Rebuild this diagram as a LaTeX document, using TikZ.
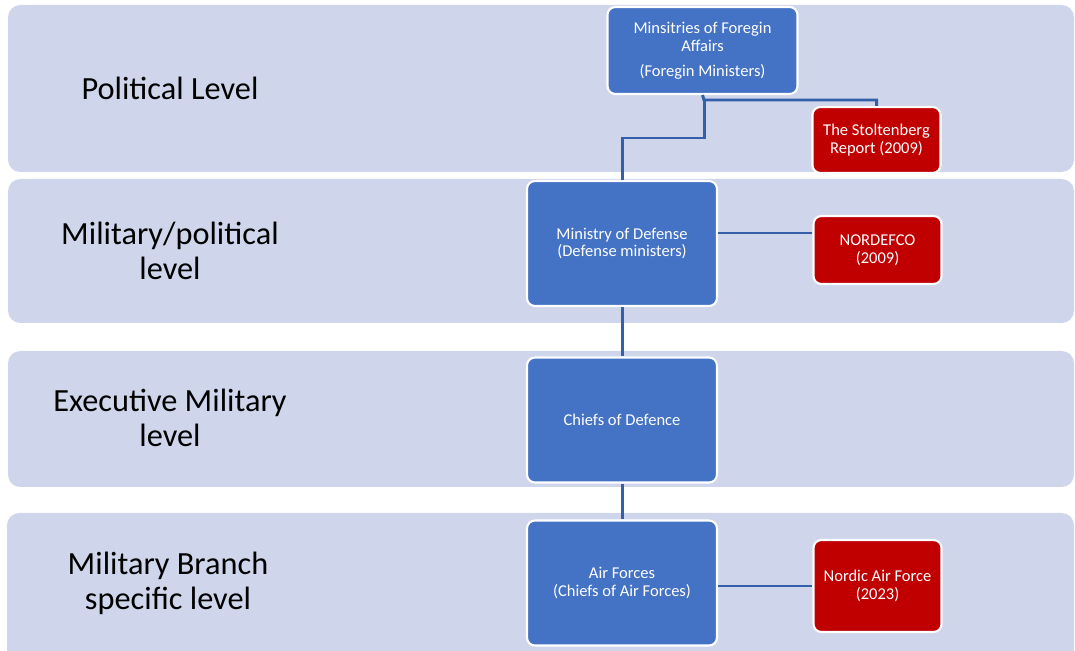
\documentclass[tikz,border=0pt]{standalone}
\usepackage{fontspec}
\setmainfont{Carlito}
\usepackage{tikz}

\definecolor{bandfill}{HTML}{CFD5EA}
\definecolor{boxblue}{HTML}{4472C4}
\definecolor{boxred}{HTML}{C00000}
\definecolor{linkblue}{HTML}{3460AA}

\begin{document}
\begin{tikzpicture}[x=0.02cm, y=-0.02cm,
    band/.style={fill=bandfill, rounded corners=7pt},
    level/.style={align=center, font=\fontsize{18.4}{20}\selectfont},
    unit/.style={draw=white, line width=1.2pt, fill=boxblue, rounded corners=4.5pt,
        text=white, align=center, font=\fontsize{9.4}{10.2}\selectfont,
        minimum width=3.8cm, minimum height=2.5cm, inner sep=2pt},
    coop/.style={unit, fill=boxred, minimum width=2.56cm},
    link/.style={draw=linkblue, line width=1.7pt}]
    \useasboundingbox (0,0) rectangle (1075,651);
    \clip (0,0) rectangle (1075,651);
    % level bands
    \fill[band] (8,5) rectangle (1074,172);
    \fill[band] (8,179) rectangle (1074,323);
    \fill[band] (8,351) rectangle (1074,487);
    \fill[band] (7,513) rectangle (1074,670);
    \node[level] (lpol) at (170,88) {Political Level};
    \node[level] (lmilpol) at (170,251) {Military/political\\level};
    \node[level] (lexec) at (170,418) {Executive Military\\level};
    \node[level] (lbranch) at (168,583) {Military Branch\\specific level};
    % boxes
    \node[unit, minimum height=1.74cm] (mfa) at (702.5,50.5) {Minsitries of Foregin\\Affairs\\[4pt](Foregin Ministers)};
    \node[coop, minimum height=1.32cm] (stolt) at (876.5,140) {The Stoltenberg\\Report (2009)};
    \node[unit] (mod) at (622,243.5) {Ministry of Defense\\(Defense ministers)};
    \node[coop, minimum height=1.36cm] (nordefco) at (877.5,250) {NORDEFCO\\(2009)};
    \node[unit] (chiefs) at (622,420) {Chiefs of Defence};
    \node[unit] (air) at (622,583) {Air Forces\\(Chiefs of Air Forces)};
    \node[coop, minimum height=1.84cm] (nordic) at (877.5,586) {Nordic Air Force\\(2023)};
    % connectors
    \coordinate (split) at (704,100);
    \coordinate (bend) at (622,138);
    \draw[link] (mfa.south) -- (split) -| (stolt.north);
    \draw[link] (split) |- (bend) -- (mod.north);
    \draw[link] ([yshift=0.21cm]mod.east) -- ([yshift=0.21cm]mod.east -| nordefco.west);
    \draw[link] (mod.south) -- (chiefs.north);
    \draw[link] (chiefs.south) -- (air.north);
    \draw[link] (air.east |- nordic.west) -- (nordic.west);
\end{tikzpicture}
\end{document}
